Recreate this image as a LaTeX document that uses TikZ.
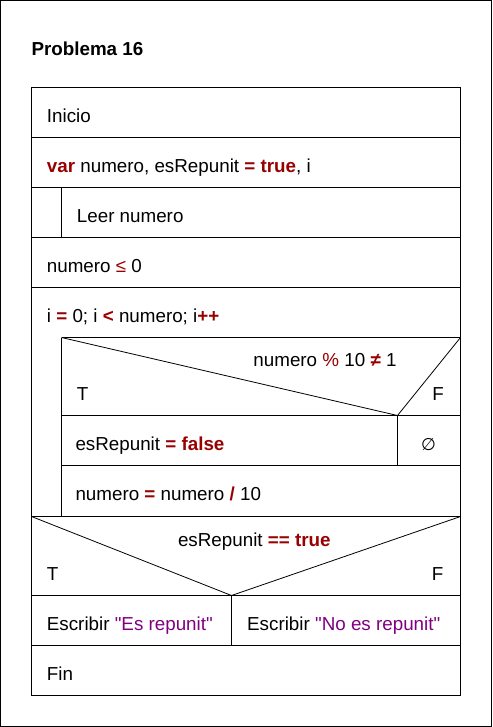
\documentclass[tikz,border=0pt]{standalone}
\usepackage{fontspec}
\setmainfont{Liberation Sans}[Ligatures=TeXOff]
\newfontfamily\symfont{DejaVu Sans}
\definecolor{kw}{RGB}{153,0,0}
\definecolor{str}{RGB}{128,0,128}
\newcommand{\kwb}[1]{\textcolor{kw}{\textbf{#1}}}
\newcommand{\kwr}[1]{\textcolor{kw}{#1}}
\newcommand{\strc}[1]{\textcolor{str}{#1}}
\begin{document}
\begin{tikzpicture}[x=1pt,y=-1pt,
  every node/.style={inner sep=0pt, font=\fontsize{18.8}{22}\selectfont},
  lbl/.style={anchor=base west},
  rlbl/.style={anchor=base east},
  frame/.style={draw=black, line width=1pt},
  thin/.style={draw=black, line width=0.8pt}]
\useasboundingbox (0,0) rectangle (492,727);
\draw[frame] (0.5,0.5) rectangle (491.5,726.5);
\node[lbl, font=\fontsize{18.8}{22}\selectfont\bfseries] (title) at (31.3,56) {Problema 16};
% main box
\draw[frame] (31.5,87.5) rectangle (460.5,695.5);
\draw[frame] (31.5,137.5) -- (460.5,137.5);
\draw[frame] (31.5,187.5) -- (460.5,187.5);
\draw[frame] (61.5,187.5) -- (61.5,237.5);
\draw[frame] (31.5,237.5) -- (460.5,237.5);
\draw[frame] (31.5,287.5) -- (460.5,287.5);
% loop body
\draw[frame] (61.5,337.5) -- (460.5,337.5);
\draw[frame] (61.5,337.5) -- (61.5,516.5);
\draw[thin] (61.5,337.5) -- (397.5,415.5) -- (460.5,337.5);
\draw[frame] (61.5,415.5) -- (460.5,415.5);
\draw[frame] (397.5,415.5) -- (397.5,465.5);
\draw[frame] (61.5,465.5) -- (460.5,465.5);
\draw[frame] (31.5,516.5) -- (460.5,516.5);
% second if
\draw[thin] (31.5,516.5) -- (231.5,595.5) -- (460.5,516.5);
\draw[frame] (31.5,595.5) -- (460.5,595.5);
\draw[frame] (231.5,595.5) -- (231.5,645.5);
\draw[frame] (31.5,645.5) -- (460.5,645.5);
% texts
\node[lbl] (inicio) at (46.7,122.5) {Inicio};
\node[lbl] (var) at (46.7,172.5) {\kwb{var} numero, esRepunit \kwb{=} \kwb{true}, i};
\node[lbl] (leer) at (76.7,222.5) {Leer numero};
\node[lbl] (cond) at (46.7,272.5) {numero \kwr{≤} 0};
\node[lbl] (loop) at (46.7,322.5) {i \kwb{=} 0; i \kwb{<} numero; i\kwb{++}};
\node[rlbl] (ifc) at (396.7,366.5) {numero \kwr{\%} 10 \kwb{≠} 1};
\node[lbl] (t1) at (76.7,400.5) {T};
\node[rlbl] (f1) at (444,400.5) {F};
\node[lbl] (esf) at (75.3,450.5) {esRepunit \kwb{=} \kwb{false}};
\node[anchor=base, font=\fontsize{17}{20}\symfont] (empty) at (428.5,450.5) {∅};
\node[lbl] (div) at (75.3,500.5) {numero \kwb{=} numero \kwb{/} 10};
\node[anchor=base] (ifc2) at (254.3,546) {esRepunit \kwb{==} \kwb{true}};
\node[lbl] (t2) at (46.7,580.5) {T};
\node[rlbl] (f2) at (443.5,580.5) {F};
\node[lbl] (es) at (46.7,630.5) {Escribir \strc{"Es repunit"}};
\node[lbl] (noes) at (247,630.5) {Escribir \strc{"No es repunit"}};
\node[lbl] (fin) at (46.7,680.5) {Fin};
\end{tikzpicture}
\end{document}
